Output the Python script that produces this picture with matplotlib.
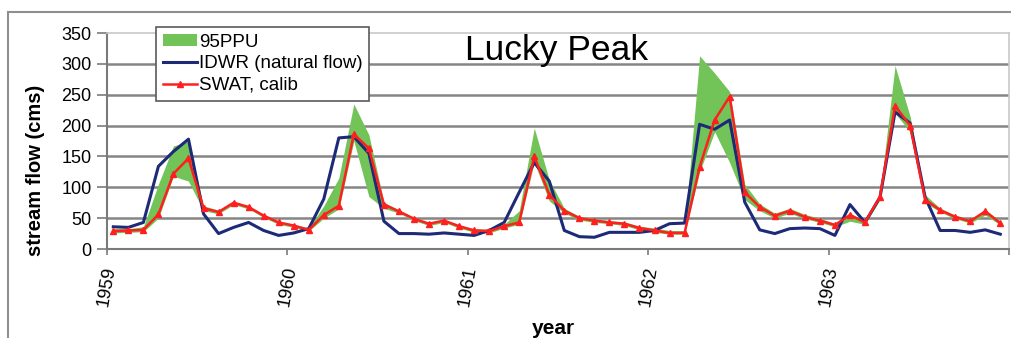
import numpy as np
import matplotlib
matplotlib.use("Agg")
import matplotlib.pyplot as plt
from matplotlib.lines import Line2D

# Monthly stream flow (cms), Jan 1959 - Dec 1963
years = [1959, 1960, 1961, 1962, 1963]
year_labels = ["1959", "1960", "1961", "1962", "1963"]

swat_calib = [
    29, 30, 31, 56, 122, 147, 66, 60, 75, 68, 54, 43,
    38, 31, 55, 70, 186, 163, 72, 61, 49, 41, 46, 37,
    30, 29, 37, 43, 150, 88, 62, 50, 46, 43, 41, 34,
    30, 26, 26, 133, 209, 247, 92, 68, 54, 62, 52, 46,
    39, 55, 43, 85, 232, 200, 80, 63, 52, 45, 61, 42,
]
idwr_natural = [
    36, 35, 43, 134, 158, 178, 57, 25, 35, 43, 30, 22,
    26, 33, 81, 180, 182, 155, 45, 25, 25, 24, 26, 24,
    22, 30, 43, 92, 140, 110, 30, 20, 19, 27, 27, 27,
    30, 41, 42, 202, 194, 209, 76, 31, 25, 33, 34, 33,
    22, 72, 43, 84, 222, 204, 84, 30, 30, 27, 31, 24,
]
ppu95_upper = [
    33, 33, 36, 105, 167, 174, 70, 63, 77, 70, 56, 45,
    40, 34, 70, 115, 235, 185, 76, 63, 51, 43, 48, 39,
    33, 32, 40, 62, 196, 112, 66, 53, 49, 46, 44, 37,
    34, 30, 30, 313, 285, 255, 105, 73, 58, 66, 56, 50,
    41, 58, 46, 90, 297, 215, 88, 66, 55, 48, 64, 45,
]
ppu95_lower = [
    26, 27, 28, 50, 118, 110, 62, 57, 72, 65, 51, 40,
    35, 29, 50, 65, 175, 85, 66, 58, 46, 38, 43, 34,
    27, 26, 34, 40, 140, 78, 58, 47, 43, 41, 38, 31,
    27, 24, 24, 125, 190, 140, 80, 62, 50, 58, 49, 43,
    36, 45, 40, 80, 220, 190, 75, 60, 49, 42, 55, 39,
]

plt.rcParams["font.family"] = ["Liberation Sans", "DejaVu Sans"]

W, H = 1012, 338
fig = plt.figure(figsize=(W / 100, H / 100), dpi=100)
fig.patch.set_facecolor("white")

# outer chart frame (top and left edges)
fig.add_artist(Line2D([8 / W, 1.0], [1 - 12 / H, 1 - 12 / H], transform=fig.transFigure,
                      color="#8f8f8f", lw=1.5))
fig.add_artist(Line2D([8 / W, 8 / W], [0.0, 1 - 12 / H], transform=fig.transFigure,
                      color="#8f8f8f", lw=1.5))

left, right, top, bottom = 107, 1009, 33, 249
ax = fig.add_axes([left / W, 1 - bottom / H, (right - left) / W, (bottom - top) / H])

# month positions in decimal years
n = len(swat_calib)
x = years[0] + (np.arange(n) + 0.42) / 12.0

green = "#72c358"
navy = "#1d2a78"
red = "#ff1f1f"

band = ax.fill_between(x, ppu95_lower, ppu95_upper, color=green, lw=0, label="95PPU", zorder=2)
l_idwr, = ax.plot(x, idwr_natural, color=navy, lw=2.2, label="IDWR (natural flow)", zorder=3)
l_swat, = ax.plot(x, swat_calib, color=red, lw=1.8, marker="^", ms=4.5,
                  label="SWAT, calib", zorder=4)

ax.set_xlim(1959, 1964)
ax.set_ylim(0, 350)
ax.set_yticks(range(0, 351, 50))
ax.set_xticks(years + [1964])
ax.set_xticklabels(year_labels + [""], rotation=80, ha="center", va="top")

ax.tick_params(axis="y", direction="out", length=7, width=1.2, color="#7a7a7a",
               labelsize=13, pad=4)
ax.tick_params(axis="x", direction="out", length=4.5, width=1.2, color="#7a7a7a",
               labelsize=13, pad=7)

ax.yaxis.grid(True, color="#858585", lw=1.8)
ax.set_axisbelow(True)
ax.get_ygridlines()[-1].set_visible(False)

for side in ("left", "bottom"):
    ax.spines[side].set_color("#7a7a7a")
    ax.spines[side].set_linewidth(1.5)
for side in ("top", "right"):
    ax.spines[side].set_color("#c8c8c8")
    ax.spines[side].set_linewidth(1.2)

leg = ax.legend(handles=[band, l_idwr, l_swat], loc="upper left",
                bbox_to_anchor=(156 / W, 1 - 27 / H), bbox_transform=fig.transFigure,
                borderaxespad=0, fancybox=False, framealpha=1, edgecolor="#5a5a5a",
                fontsize=13.5, handlelength=1.85, handleheight=0.55, handletextpad=0.1,
                borderpad=0.35, labelspacing=0.25, numpoints=1)
leg.get_frame().set_linewidth(1.2)
leg.set_zorder(10)

fig.text(465 / W, 1 - 60 / H, "Lucky Peak", fontsize=25.5, ha="left", va="baseline")
fig.text(36 / W, 1 - 170 / H, "stream flow (cms)", rotation=90, fontsize=14.5,
         fontweight="bold", ha="center", va="center")
fig.text(553 / W, 1 - 328 / H, "year", fontsize=15, fontweight="bold",
         ha="center", va="center")

fig.savefig("out.png", dpi=100)
